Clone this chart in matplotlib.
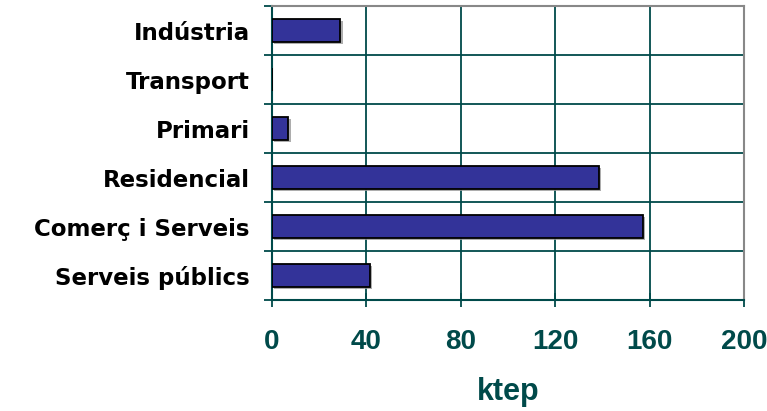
import numpy as np
import matplotlib.pyplot as plt
import matplotlib.patheffects as pe

categories = ["Indústria", "Transport", "Primari", "Residencial",
              "Comerç i Serveis", "Serveis públics"]
values = [29, 0, 7, 138.5, 157, 41.5]
xticks = [0, 40, 80, 120, 160, 200]

TEAL = "#004a4a"

plt.rcParams["font.family"] = ["Liberation Sans", "DejaVu Sans"]
plt.rcParams["font.weight"] = "bold"

fig = plt.figure(figsize=(7.67, 4.11), dpi=100)
ax = fig.add_axes([0.3546, 0.270, 0.6154, 0.715])

y = np.arange(len(categories))
bars = ax.barh(y, values, height=0.47, color="#333399", edgecolor="black",
               linewidth=1.3, zorder=3)
for b in bars:
    b.set_path_effects([pe.SimplePatchShadow(offset=(1.5, -1.5), shadow_rgbFace="#999999", alpha=0.8),
                        pe.Normal()])

ax.set_ylim(len(categories) - 0.5, -0.5)
ax.set_xlim(0, 200)
ax.set_xticks(xticks)
ax.set_xticklabels([str(t) for t in xticks], fontsize=20, fontweight="bold", color=TEAL)
ax.set_yticks(y)
# labels in the original are letter-spaced; the wider DejaVu face gets closer
ax.set_yticklabels(categories, fontsize=16.5, fontweight="bold", color="black",
                   family="DejaVu Sans")
ax.tick_params(axis="y", which="major", length=0, pad=16)
ax.set_yticks(np.arange(-0.5, len(categories), 1), minor=True)
ax.tick_params(axis="y", which="minor", length=6, width=1.3, color=TEAL, direction="out")
ax.tick_params(axis="x", length=10, width=1.3, color=TEAL, direction="inout", pad=16)

ax.grid(True, which="major", axis="x", color=TEAL, lw=1.3, zorder=1)
ax.grid(True, which="minor", axis="y", color=TEAL, lw=1.3, zorder=1)
ax.set_axisbelow(True)

for side in ["left", "bottom"]:
    ax.spines[side].set_color(TEAL)
    ax.spines[side].set_linewidth(1.5)
for side in ["top", "right"]:
    ax.spines[side].set_color("#888888")
    ax.spines[side].set_linewidth(1.5)

ax.set_xlabel("ktep", fontsize=22, fontweight="bold", color=TEAL, labelpad=16)

plt.savefig("out.png", dpi=100)
